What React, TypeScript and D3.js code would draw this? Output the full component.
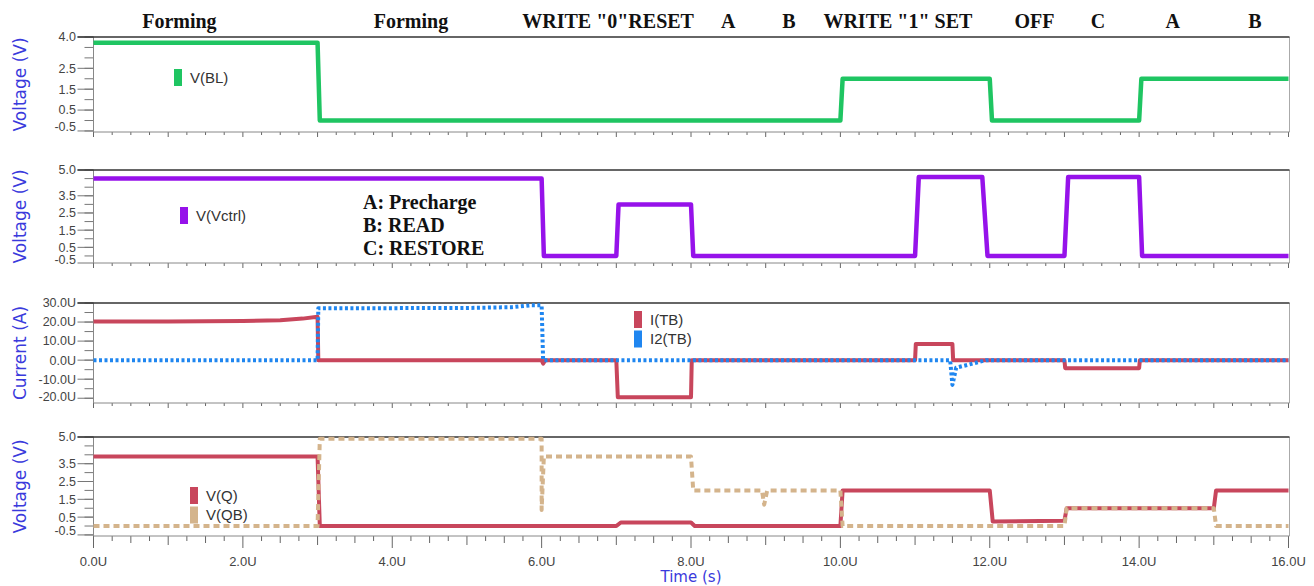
import React from 'react';
import * as d3 from 'd3';

const W = 1314;
const H = 586;
const X0 = 93.5;
const X1 = 1288.5;

// ---- data ----
const timeLabels = [0, 2, 4, 6, 8, 10, 12, 14, 16];
const phaseNames = ['Forming', 'Forming', 'WRITE "0"RESET', 'A', 'B', 'WRITE "1" SET', 'OFF', 'C', 'A', 'B'];
const phaseTimes = [1.15, 4.25, 6.89, 8.5, 9.31, 10.77, 12.6, 13.45, 14.45, 15.55];
const notes = ['A: Precharge', 'B: READ', 'C: RESTORE'];

const vLabels1 = [4.0, 2.5, 1.5, 0.5, -0.5];
const vLabels2 = [5.0, 3.5, 2.5, 1.5, 0.5, -0.5];
const iLabels = [30, 20, 10, 0, -10, -20];

const blT = [0, 3.0, 3.03, 10.0, 10.03, 12.0, 12.03, 14.0, 14.03, 16];
const blV = [3.73, 3.73, 0, 0, 2.0, 2.0, 0, 0, 2.0, 2.0];

const vcT = [0, 6.0, 6.03, 7.0, 7.03, 8.0, 8.03, 11.0, 11.05, 11.9, 11.97, 13.0, 13.05, 14.0, 14.04, 16];
const vcV = [4.5, 4.5, 0, 0, 3.0, 3.0, 0, 0, 4.6, 4.6, 0, 0, 4.6, 4.6, 0, 0];

const itbT = [0, 1.0, 2.0, 2.5, 2.8, 3.0, 3.01, 6.0, 6.02, 6.05, 7.0, 7.02, 8.0, 8.01, 11.0, 11.01, 11.5, 11.51, 13.0, 13.01, 14.0, 14.01, 16];
const itbV = [20.3, 20.3, 20.6, 21.0, 21.8, 22.8, 0, 0, -1.8, 0, 0, -19.5, -19.5, 0, 0, 8.5, 8.5, 0, 0, -4.2, -4.2, 0, 0];

const i2T = [0, 3.0, 3.01, 5.0, 5.6, 5.85, 6.0, 6.02, 11.47, 11.5, 11.55, 11.7, 11.85, 11.95, 16];
const i2V = [0, 0, 27.2, 27.4, 27.8, 28.8, 28.8, 0, 0, -13, -4, -2.5, -1, 0, 0];

const qT = [0, 3.0, 3.03, 7.0, 7.06, 8.0, 8.05, 10.0, 10.03, 12.0, 12.04, 13.0, 13.03, 15.0, 15.03, 16];
const qV = [3.9, 3.9, 0, 0, 0.2, 0.2, 0, 0, 2.0, 2.0, 0.25, 0.3, 1.0, 1.0, 2.0, 2.0];

const qbT = [0, 3.0, 3.03, 6.0, 6.0, 6.03, 8.0, 8.03, 8.95, 8.98, 9.02, 10.0, 10.03, 13.0, 13.03, 15.0, 15.03, 16];
const qbV = [0, 0, 4.9, 4.9, 0.9, 3.9, 3.9, 2.0, 2.0, 1.2, 2.0, 2.0, 0, 0, 1.0, 1.0, 0, 0];

const C_GREEN = '#1fc562';
const C_PURPLE = '#9612ea';
const C_RED = '#c8465c';
const C_BLUE = '#1f86f0';
const C_TAN = '#d4b48c';
const C_TITLE = '#3a3adc';
const C_TICK = '#444';

type Series = { t: number[]; v: number[]; color: string; width: number; dash?: string; name: string };
type Panel = {
  top: number; bottom: number; domain: [number, number]; labels: number[]; step: number;
  fmt: (v: number) => string; title: string; series: Series[];
  legend: { x: number; y: number }; floor: number;
};

const panels: Panel[] = [
  {
    top: 37, bottom: 132, domain: [-0.55, 4.0], labels: vLabels1, step: 0.5,
    fmt: (v) => v.toFixed(1), title: 'Voltage (V)',
    series: [{ t: blT, v: blV, color: C_GREEN, width: 4.5, name: 'V(BL)' }],
    legend: { x: 174, y: 69 }, floor: 5,
  },
  {
    top: 170, bottom: 263, domain: [-0.41, 5.0], labels: vLabels2, step: 0.5,
    fmt: (v) => v.toFixed(1), title: 'Voltage (V)',
    series: [{ t: vcT, v: vcV, color: C_PURPLE, width: 4.5, name: 'V(Vctrl)' }],
    legend: { x: 180, y: 207 }, floor: 3,
  },
  {
    top: 303, bottom: 403, domain: [-22.5, 30], labels: iLabels, step: 5,
    fmt: (v) => v.toFixed(1) + 'U', title: 'Current (A)',
    series: [
      { t: itbT, v: itbV, color: C_RED, width: 4, name: 'I(TB)' },
      { t: i2T, v: i2V, color: C_BLUE, width: 4, dash: '3,2.5', name: 'I2(TB)' },
    ],
    legend: { x: 634, y: 311 }, floor: 6,
  },
  {
    top: 437, bottom: 536, domain: [-0.56, 5.0], labels: vLabels2, step: 0.5,
    fmt: (v) => v.toFixed(1), title: 'Voltage (V)',
    series: [
      { t: qT, v: qV, color: C_RED, width: 4, name: 'V(Q)' },
      { t: qbT, v: qbV, color: C_TAN, width: 4, dash: '6,4', name: 'V(QB)' },
    ],
    legend: { x: 190, y: 487 }, floor: 5,
  },
];

export default function App() {
  const x = d3.scaleLinear().domain([0, 16]).range([X0, X1]);
  const xMinor = d3.range(0, 16.001, 0.25);

  return (
    <svg width={W} height={H} style={{ position: 'absolute', left: 0, top: 0, background: '#fff' }}>
      <rect x={0} y={0} width={W} height={H} fill="#fff" />
      {phaseNames.map((n, i) => (
        <text key={'ph' + i} x={x(phaseTimes[i])} y={28} textAnchor="middle"
          fontFamily="'Liberation Serif', 'Times New Roman', serif" fontWeight="bold" fontSize={20} fill="#111">
          {n}
        </text>
      ))}
      {panels.map((p, pi) => {
        const y = d3.scaleLinear().domain(p.domain).range([p.bottom, p.top]);
        const minor = d3.range(Math.ceil(p.domain[0] / p.step - 1e-9) * p.step, p.domain[1] + 1e-9, p.step);
        const isLast = pi === panels.length - 1;
        return (
          <g key={'p' + pi}>
            <text transform={`translate(26,${(p.top + p.bottom) / 2}) rotate(-90)`} textAnchor="middle"
              fontFamily="'DejaVu Sans', Verdana, sans-serif" fontSize={17} fill={C_TITLE}>
              {p.title}
            </text>
            {minor.map((v, i) => (
              <line key={'ym' + i} x1={X0 - 9} x2={X0} y1={y(v)} y2={y(v)} stroke="#777" strokeWidth={1} />
            ))}
            {p.labels.map((v, i) => {
              const ty = Math.min(y(v), p.bottom);
              const yy = Math.min(y(v), p.bottom - p.floor);
              return (
                <g key={'yl' + i}>
                  <line x1={X0 - 16} x2={X0} y1={ty} y2={ty} stroke="#777" strokeWidth={1} />
                  <text x={76} y={yy} dy="0.35em" textAnchor="end"
                    fontFamily="'Liberation Sans', Arial, sans-serif" fontSize={12.5} fill={C_TICK}>
                    {p.fmt(v)}
                  </text>
                </g>
              );
            })}
            {xMinor.map((t, i) => {
              const isInt = Math.abs(t - Math.round(t)) < 1e-6;
              const isHalf = Math.abs(t * 2 - Math.round(t * 2)) < 1e-6;
              const isLab = isInt && Math.round(t) % 2 === 0;
              let len: number;
              if (isLast) len = isLab ? 12 : isInt ? 9 : isHalf ? 7 : 5;
              else len = isInt ? 5 : 3;
              return (
                <line key={'xt' + i} x1={x(t)} x2={x(t)} y1={p.bottom} y2={p.bottom + len}
                  stroke="#666" strokeWidth={1} />
              );
            })}
            <line x1={X0} x2={X0} y1={p.top} y2={p.bottom} stroke="#888" strokeWidth={1} />
            <line x1={X1 + 1} x2={X1 + 1} y1={p.top} y2={p.bottom} stroke="#aaa" strokeWidth={1} />
            <line x1={X0} x2={X1 + 1} y1={p.bottom} y2={p.bottom} stroke="#888" strokeWidth={1} />
            <line x1={X0 - 16} x2={X1 + 1} y1={p.top} y2={p.top} stroke="#333" strokeWidth={1.5} />
            {p.series.map((s, si) => {
              const gen = d3.line<number>().x((_, i) => x(s.t[i])).y((d) => y(d));
              return (
                <path key={'s' + si} d={gen(s.v) || ''} fill="none" stroke={s.color} strokeWidth={s.width}
                  strokeDasharray={s.dash} strokeLinejoin="round" />
              );
            })}
            {p.series.map((s, si) => (
              <g key={'lg' + si}>
                <rect x={p.legend.x} y={p.legend.y + si * 19.5} width={8} height={17} fill={s.color} />
                <text x={p.legend.x + 16} y={p.legend.y + si * 19.5 + 8.5} dy="0.35em"
                  fontFamily="'Liberation Sans', Arial, sans-serif" fontSize={15} fill="#333">
                  {s.name}
                </text>
              </g>
            ))}
            {isLast && timeLabels.map((t, i) => (
              <text key={'xl' + i} x={x(t)} y={566} textAnchor="middle"
                fontFamily="'Liberation Sans', Arial, sans-serif" fontSize={13} fill={C_TICK}>
                {t.toFixed(1) + 'U'}
              </text>
            ))}
          </g>
        );
      })}
      {notes.map((n, i) => (
        <text key={'n' + i} x={363} y={209 + i * 23} fontFamily="'Liberation Serif', 'Times New Roman', serif"
          fontWeight="bold" fontSize={20} fill="#111">
          {n}
        </text>
      ))}
      <text x={(X0 + X1) / 2} y={582} textAnchor="middle" fontFamily="'DejaVu Sans', Verdana, sans-serif"
        fontSize={15} fill={C_TITLE}>
        Time (s)
      </text>
    </svg>
  );
}
